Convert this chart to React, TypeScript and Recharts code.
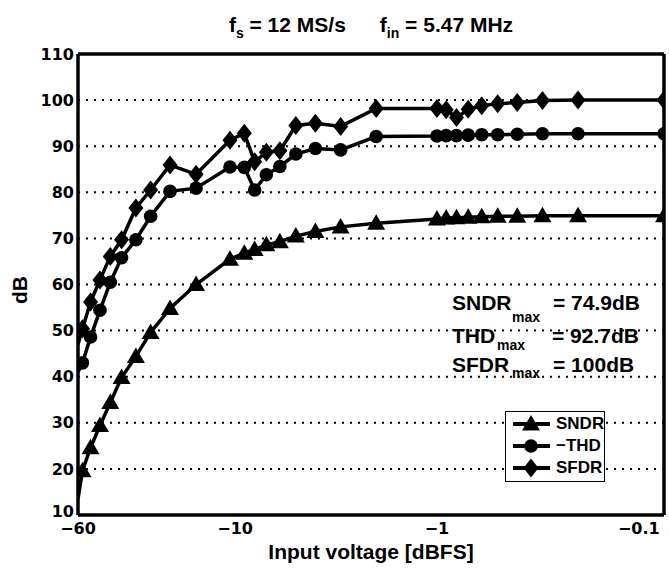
import React from "react";
import { LineChart, Line, XAxis, YAxis, CartesianGrid, Legend } from "recharts";

// ── Data ─────────────────────────────────────────────────────────────────────

const inputDbfs = [
  -60, -57, -52, -46.7, -41.5, -36.5, -31, -26.2, -21, -15.6,
  -10.6, -9, -8, -7, -6, -5, -4, -3, -2,
  -1, -0.9, -0.8, -0.7, -0.6, -0.5, -0.4, -0.3, -0.2, -0.075,
];
const sndr = [
  13.5, 19.6, 24.6, 29.4, 34.4, 39.8, 44.4, 49.6, 54.8, 60,
  65.5, 66.8, 67.6, 68.6, 69.3, 70.5, 71.5, 72.5, 73.3,
  74.2, 74.4, 74.5, 74.6, 74.7, 74.8, 74.8, 74.9, 74.9, 74.9,
];
const thd = [
  41, 43, 48.6, 54.4, 60.5, 65.8, 69.7, 74.8, 80.2, 80.9,
  85.5, 85.4, 80.5, 83.8, 85.6, 88.3, 89.5, 89.2, 92.1,
  92.2, 92.3, 92.3, 92.4, 92.5, 92.5, 92.6, 92.7, 92.7, 92.7,
];
const sfdr = [
  47, 50.4, 56.2, 61, 66.1, 69.7, 76.6, 80.5, 85.9, 83.9,
  91.3, 92.8, 86.6, 88.7, 89, 94.5, 95, 94.3, 98.2,
  98.2, 97.9, 96.2, 98, 98.8, 99.2, 99.5, 99.9, 100, 100,
];

const xTicks = [60, 10, 1, 0.1];
const yTicks = [10, 20, 30, 40, 50, 60, 70, 80, 90, 100, 110];
const seriesNames = ["SNDR", "\u2212THD", "SFDR"];

// ── Styles ───────────────────────────────────────────────────────────────────

const ARIAL = "'Liberation Sans', Arial, Helvetica, sans-serif";
const DEJAVU = "'DejaVu Sans', sans-serif";
const INK = "#000";
const TICK_STYLE = { fontFamily: DEJAVU, fontSize: 16, fontWeight: 700, fill: INK };

// ── Markers ──────────────────────────────────────────────────────────────────

function triPath(cx: number, cy: number) {
  return `M${cx},${cy - 9}L${cx + 9},${cy + 6.5}L${cx - 9},${cy + 6.5}Z`;
}
function diaPath(cx: number, cy: number) {
  return `M${cx},${cy - 9.5}L${cx + 7.5},${cy}L${cx},${cy + 9.5}L${cx - 7.5},${cy}Z`;
}

// first point sits on the left frame, where the original clips its marker
const TriDot = (p: any) =>
  p.index === 0 ? <g key={p.key} /> : <path key={p.key} d={triPath(p.cx, p.cy)} fill={INK} />;
const CircDot = (p: any) =>
  p.index === 0 ? <g key={p.key} /> : <circle key={p.key} cx={p.cx} cy={p.cy} r={6.8} fill={INK} />;
const DiaDot = (p: any) =>
  p.index === 0 ? <g key={p.key} /> : <path key={p.key} d={diaPath(p.cx, p.cy)} fill={INK} />;

// y tick: the bottom label sits a little higher, clear of the x labels
function YTick({ x, y, payload }: any) {
  const lift = payload.value === 10 ? -4 : 0;
  return (
    <text x={x} y={y + lift} dy="0.355em" textAnchor="end" {...TICK_STYLE}>
      {payload.value}
    </text>
  );
}

function LegendBox() {
  const icons = [
    (cx: number, cy: number) => <path d={triPath(cx, cy)} fill={INK} />,
    (cx: number, cy: number) => <circle cx={cx} cy={cy} r={6.8} fill={INK} />,
    (cx: number, cy: number) => <path d={diaPath(cx, cy)} fill={INK} />,
  ];
  return (
    <div
      style={{
        border: `1.5px solid ${INK}`,
        background: "#fff",
        width: 100,
        padding: "1px 0 2px 0",
        boxSizing: "border-box",
      }}
    >
      {seriesNames.map((name, i) => (
        <div key={name} style={{ display: "flex", alignItems: "center", height: 22 }}>
          <svg width={50} height={22} style={{ flexShrink: 0 }}>
            <line x1={7} y1={11} x2={44} y2={11} stroke={INK} strokeWidth={4} />
            {icons[i](25, 11)}
          </svg>
          <span style={{ fontFamily: ARIAL, fontWeight: 700, fontSize: 17, color: INK }}>{name}</span>
        </div>
      ))}
    </div>
  );
}

// ── Chart ────────────────────────────────────────────────────────────────────

export default function App() {
  const data = inputDbfs.map((x, i) => ({ mag: -x, sndr: sndr[i], thd: thd[i], sfdr: sfdr[i] }));

  return (
    <div style={{ position: "absolute", left: 0, top: 0, width: 669, height: 570, background: "#fff" }}>
      <LineChart width={669} height={570} data={data} margin={{ top: 54, right: 5, bottom: 0, left: 0 }}>
        <CartesianGrid
          vertical={false}
          stroke={INK}
          strokeWidth={2}
          strokeDasharray="2 6"
        />

        <XAxis
          dataKey="mag"
          type="number"
          scale="log"
          domain={[0.075, 60]}
          reversed
          ticks={xTicks}
          tickFormatter={(v: number) => `\u2212${v}`}
          tick={TICK_STYLE}
          tickLine={false}
          tickSize={0}
          tickMargin={8}
          height={55}
          axisLine={{ stroke: INK, strokeWidth: 3.5 }}
          allowDataOverflow
          label={{
            value: "Input voltage [dBFS]",
            position: "insideBottom",
            offset: 11,
            style: { fontFamily: ARIAL, fontSize: 21, fontWeight: 700, fill: INK },
          }}
        />
        <XAxis
          xAxisId="top"
          orientation="top"
          mirror
          dataKey="mag"
          type="number"
          scale="log"
          domain={[0.075, 60]}
          reversed
          ticks={xTicks}
          tick={false}
          tickSize={5}
          tickLine={{ stroke: INK, strokeWidth: 1.5 }}
          axisLine={{ stroke: INK, strokeWidth: 3.5 }}
          allowDataOverflow
        />

        <YAxis
          type="number"
          domain={[10, 110]}
          ticks={yTicks}
          interval={0}
          tick={<YTick />}
          tickLine={false}
          tickSize={0}
          tickMargin={4}
          width={78}
          axisLine={{ stroke: INK, strokeWidth: 3.5 }}
          allowDataOverflow
        />
        <YAxis
          yAxisId="right"
          orientation="right"
          mirror
          type="number"
          domain={[10, 110]}
          tick={false}
          tickLine={false}
          axisLine={{ stroke: INK, strokeWidth: 3.5 }}
        />

        <Line dataKey="sndr" name="SNDR" stroke={INK} strokeWidth={3.5} dot={TriDot} isAnimationActive={false} />
        <Line dataKey="thd" name="-THD" stroke={INK} strokeWidth={3.5} dot={CircDot} isAnimationActive={false} />
        <Line dataKey="sfdr" name="SFDR" stroke={INK} strokeWidth={3.5} dot={DiaDot} isAnimationActive={false} />

        <Legend
          layout="vertical"
          align="center"
          verticalAlign="middle"
          content={() => <LegendBox />}
          wrapperStyle={{ left: 505, top: 411, width: 100 }}
        />

        {/* title */}
        <text x={371} y={32} textAnchor="middle" fontFamily={ARIAL} fontWeight={700} fontSize={21} fill={INK}>
          <tspan>f</tspan>
          <tspan fontSize={14} dy={6}>s</tspan>
          <tspan dy={-6}> = 12 MS/s</tspan>
          <tspan dx={34}>f</tspan>
          <tspan fontSize={14} dy={6}>in</tspan>
          <tspan dy={-6}> = 5.47 MHz</tspan>
        </text>

        {/* y label */}
        <text
          x={0}
          y={0}
          transform="translate(27 290) rotate(-90)"
          textAnchor="middle"
          fontFamily={ARIAL}
          fontWeight={700}
          fontSize={21}
          fill={INK}
        >
          dB
        </text>

        {/* max values */}
        <g fontFamily={ARIAL} fontWeight={700} fill={INK}>
          <text x={452} y={310} fontSize={21}>SNDR</text>
          <text x={512} y={322} fontSize={14}>max</text>
          <text x={553} y={310} fontSize={21}>= 74.9dB</text>

          <text x={452} y={343} fontSize={21}>THD</text>
          <text x={497} y={350} fontSize={14}>max</text>
          <text x={552} y={343} fontSize={21}>= 92.7dB</text>

          <text x={452} y={372} fontSize={21}>SFDR</text>
          <text x={512} y={378} fontSize={14}>max</text>
          <text x={553} y={372} fontSize={21}>= 100dB</text>
        </g>
      </LineChart>
    </div>
  );
}
